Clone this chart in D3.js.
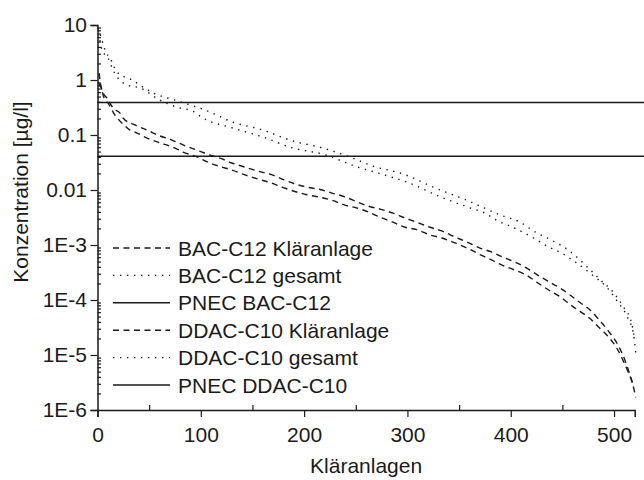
<!DOCTYPE html>
<html><head><meta charset="utf-8">
<script src="https://cdn.jsdelivr.net/npm/d3@7"></script>
<style>body{margin:0;background:#fff}svg{display:block}text{font-family:"Liberation Sans",Arial,sans-serif;fill:#1a1a1a}</style>
</head><body><svg id="c" width="644" height="480"></svg>
<script>
// ---- data ----
const xTickValues = [0,100,200,300,400,500];
const xMinorTicks = [50,150,250,350,450];
const yTickValues = [10,1,0.1,0.01,1e-3,1e-4,1e-5,1e-6];
const yTickLabels = ["10","1","0.1","0.01","1E-3","1E-4","1E-5","1E-6"];
const legendLabels = ["BAC-C12 Kläranlage","BAC-C12 gesamt","PNEC BAC-C12","DDAC-C10 Kläranlage","DDAC-C10 gesamt","PNEC DDAC-C10"];
const pnecBAC = 0.39;
const pnecDDAC = 0.041;

const bacKlaX = [1.5,2.4,5.3,9.2,12.1,15,21.8,24.7,36.3,47.9,60.5,72,82.8,96.3,109,118.6,130,142.8,155.4,167,178.6,191,202.8,215.4,227,239.6,251,262,273.5,286,297.7,309,321.9,333.3,346,357.7,370.3,381.9,391.6,404,415.6,425.3,436,447.7,457.4,467,476.8,484.5,494,504,510.6,515.5,518.4];
const bacKlaY = [1.34,1.0,0.58,0.47,0.38,0.31,0.25,0.204,0.152,0.123,0.096,0.081,0.066,0.053,0.043,0.038,0.031,0.026,0.022,0.0195,0.0158,0.0129,0.0113,0.0102,0.0088,0.0075,0.0061,0.0051,0.0045,0.0038,0.0031,0.0026,0.0021,0.0018,0.0014,0.00113,8.8e-4,7.4e-4,6.1e-4,4.9e-4,3.8e-4,2.9e-4,2.2e-4,1.65e-4,1.23e-4,9.0e-5,6.6e-5,4.6e-5,2.8e-5,1.5e-5,8.0e-6,4.3e-6,2.85e-6];

const bacGesX = [0.5,3.4,8.2,12.1,18.9,33.4,53.7,75,104,131,160,189,218,244,267,296,325,361,390,409,422,441,455,474,486,499,509,517,520];
const bacGesY = [8.8,6.0,3.2,2.5,1.4,1.0,0.58,0.43,0.285,0.172,0.123,0.078,0.058,0.040,0.027,0.0195,0.0113,0.0061,0.0035,0.0026,0.0018,0.00118,8.3e-4,4.0e-4,2.4e-4,1.4e-4,7.5e-5,3.8e-5,1.9e-5];

const ddacKlaX = [1,3,7.3,9.2,16.9,24.7,31.5,36.3,47.9,60.5,72,82.8,96.3,107,118.6,130,142.8,155.4,167,178.6,191,202.8,215.4,227,239.6,251,262,273.5,286,297.7,309,321.9,333.3,346,357.7,370.3,381.9,391.6,404,415.6,425.3,436,447.7,457.4,467,476.8,484.5,494,503,508.7,513.5,518.4,521];
const ddacKlaY = [0.9,0.75,0.43,0.40,0.23,0.158,0.123,0.113,0.088,0.072,0.061,0.049,0.040,0.032,0.0267,0.0231,0.0188,0.0158,0.0137,0.0113,0.0094,0.0082,0.0074,0.0065,0.0053,0.0047,0.0040,0.0032,0.0026,0.0021,0.0019,0.00152,0.00134,0.00109,8.8e-4,6.7e-4,5.3e-4,4.3e-4,3.5e-4,2.8e-4,2.1e-4,1.55e-4,1.15e-4,8.3e-5,6.2e-5,4.6e-5,3.3e-5,2.2e-5,1.3e-5,8.0e-6,5.0e-6,2.8e-6,1.7e-6];

const ddacGesX = [2.4,4.4,10.2,16,28.6,41,60.5,77,92.4,102,131,160,189,218,252,273,302,332,361,375,388,402,422,435,450,460,479,493,504,513,519,521];
const ddacGesY = [5.3,3.5,2.5,1.4,0.81,0.72,0.43,0.32,0.27,0.204,0.134,0.092,0.058,0.045,0.026,0.020,0.0134,0.0075,0.0047,0.0038,0.0027,0.0021,0.00134,9.6e-4,7.0e-4,5.3e-4,2.85e-4,1.7e-4,9.0e-5,4.9e-5,2.3e-5,1.1e-5];

// ---- drawing ----
const svg = d3.select("#c");
const L = 97.5, R = 634.7, T = 25, B = 410;
const x = d3.scaleLinear().domain([0,520]).range([L,R]);
const y = d3.scaleLog().domain([1e-6,10]).range([B,T]);
const ink = "#1a1a1a";
const dashed = "6,4.5", dotted = "1.4,5.6";

const line = d3.line().x(d=>x(d[0])).y(d=>y(d[1])).curve(d3.curveMonotoneX);
const series = [
  {xs:bacKlaX, ys:bacKlaY, dash:dashed},
  {xs:bacGesX, ys:bacGesY, dash:dotted},
  {xs:ddacKlaX, ys:ddacKlaY, dash:dashed},
  {xs:ddacGesX, ys:ddacGesY, dash:dotted}
];
series.forEach(s=>{
  svg.append("path").datum(s.xs.map((v,i)=>[v,s.ys[i]]))
    .attr("d",line).attr("fill","none").attr("stroke",ink)
    .attr("stroke-width",1.4).attr("stroke-dasharray",s.dash);
});
[pnecBAC,pnecDDAC].forEach(p=>{
  svg.append("line").attr("x1",x(0)).attr("x2",x(530)).attr("y1",y(p)).attr("y2",y(p))
    .attr("stroke",ink).attr("stroke-width",1.6);
});

// axes
const yMinor = [];
for (let e=-6;e<1;e++) for (let k=2;k<=9;k++) yMinor.push(k*Math.pow(10,e));
svg.append("g").attr("transform",`translate(${L},0)`)
  .call(d3.axisLeft(y).tickValues(yTickValues).tickFormat((d,i)=>yTickLabels[i]).tickSize(7).tickPadding(3.5));
svg.append("g").attr("transform",`translate(${L},0)`)
  .call(d3.axisLeft(y).tickValues(yMinor).tickFormat("").tickSize(-3.5)).select(".domain").remove();
svg.append("g").attr("transform",`translate(0,${B})`)
  .call(d3.axisBottom(x).tickValues(xTickValues).tickSize(7).tickPadding(10));
svg.append("g").attr("transform",`translate(0,${B})`)
  .call(d3.axisBottom(x).tickValues(xMinorTicks).tickFormat("").tickSize(-5)).select(".domain").remove();
svg.selectAll(".domain").attr("stroke",ink).attr("stroke-width",1.5);
svg.selectAll(".tick line").attr("stroke",ink).attr("stroke-width",1.2);
svg.selectAll(".tick text").attr("font-size",21).attr("font-family","Liberation Sans, Arial, sans-serif").attr("fill",ink);

svg.append("text").attr("x",(L+R)/2).attr("y",473).attr("text-anchor","middle")
  .attr("font-size",21).text("Kläranlagen");
svg.append("text").attr("transform","translate(28,192) rotate(-90)").attr("text-anchor","middle")
  .attr("font-size",21).text("Konzentration [µg/l]");

// legend
const legDash = [dashed,dotted,null,dashed,dotted,null];
const legY0 = 248, legStep = 27.4;
legendLabels.forEach((lab,i)=>{
  const yy = legY0 + i*legStep;
  const ln = svg.append("line").attr("x1",113).attr("x2",170).attr("y1",yy).attr("y2",yy)
    .attr("stroke",ink).attr("stroke-width",legDash[i]?1.4:1.6);
  if (legDash[i]) ln.attr("stroke-dasharray",legDash[i]);
  svg.append("text").attr("x",178).attr("y",yy+7.5).attr("font-size",21).text(lab);
});
</script></body></html>
